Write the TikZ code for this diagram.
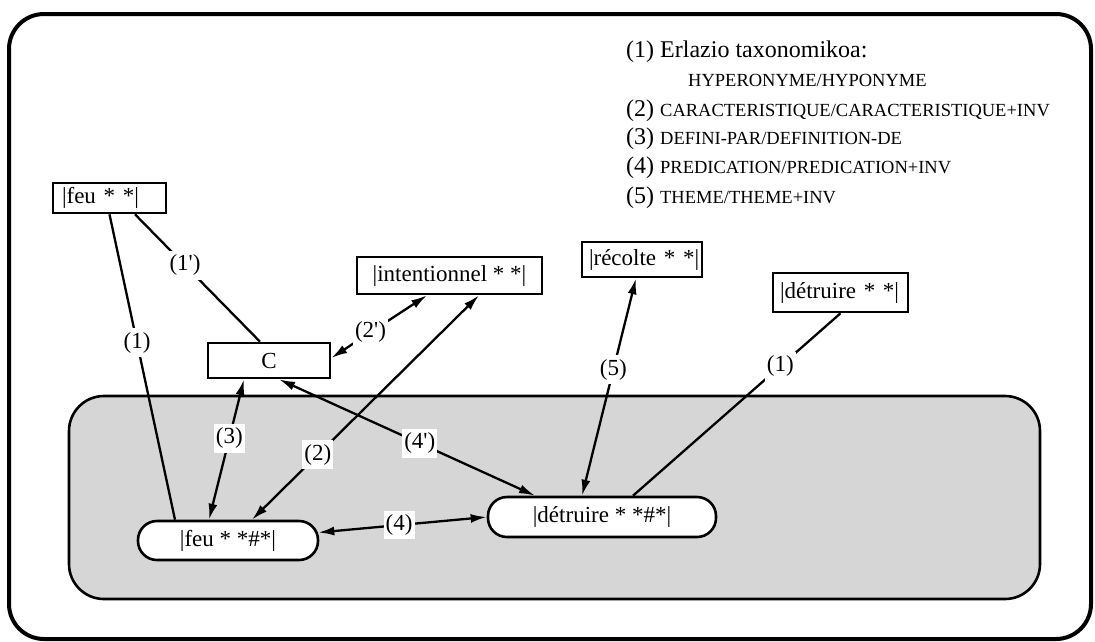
\documentclass[tikz,border=0pt]{standalone}
\usepackage{fontspec}
\setmainfont{Liberation Serif}
\usetikzlibrary{arrows.meta,calc}
\definecolor{zonegray}{RGB}{214,214,214}
\newcommand{\bigtxt}{\fontsize{23}{27}\selectfont}
\newcommand{\legtxt}{\fontsize{24}{28}\selectfont}
\newcommand{\captxt}{\fontsize{18.5}{22}\selectfont}
\begin{document}
\begin{tikzpicture}[x=1pt,y=-1pt,
  every node/.style={font=\bigtxt},
  wordbox/.style={draw,line width=2.6pt,inner ysep=0pt,align=left},
  cbox/.style={draw,line width=2.6pt,inner sep=0pt},
  oval/.style={draw,fill=white,line width=2.6pt,rounded corners=19pt,inner sep=0pt},
  conn/.style={line width=2.3pt},
  biarrow/.style={conn,{Latex[length=16pt,width=9pt]}-{Latex[length=16pt,width=9pt]}},
  lab/.style={fill=white,inner xsep=2pt,inner ysep=4pt},
  legend/.style={anchor=base west,inner sep=0pt,font=\legtxt}]
\useasboundingbox (0,0) rectangle (1095,641);

% outer frame and shaded zone
\draw[line width=4pt,rounded corners=35pt] (9,14) rectangle (1091,639);
\draw[line width=2.6pt,fill=zonegray,rounded corners=35pt] (69,396) rectangle (1040,599);

% legend
\node[legend] (leg1) at (626,57) {(1) Erlazio taxonomikoa:};
\node[legend,font=\captxt] (leg1b) at (688,86) {HYPERONYME/HYPONYME};
\node[legend] (leg2) at (626,116) {(2) {\captxt CARACTERISTIQUE/CARACTERISTIQUE+INV}};
\node[legend] (leg3) at (626,144) {(3) {\captxt DEFINI-PAR/DEFINITION-DE}};
\node[legend] (leg4) at (626,173) {(4) {\captxt PREDICATION/PREDICATION+INV}};
\node[legend] (leg5) at (626,203) {(5) {\captxt THEME/THEME+INV}};

% word boxes
\node[wordbox,inner xsep=9pt,text width=95pt,minimum height=30pt] (feu) at (109.5,198) {\mbox{|feu * *|}};
\node[cbox,minimum width=185pt,minimum height=37pt] (int) at (449.5,275.5) {|intentionnel * *|};
\node[cbox,minimum width=122pt,minimum height=35pt] (C) at (269,360.5) {C};
\node[wordbox,inner xsep=7pt,text width=106pt,minimum height=35pt] (rec) at (642,259.5) {\mbox{|récolte * *|}};
\node[wordbox,inner xsep=7pt,text width=121pt,minimum height=39pt] (det) at (840.5,292.5) {\mbox{|détruire * *|}};

% ovals in the shaded zone
\node[oval,minimum width=180pt,minimum height=39pt] (fe) at (228,540.5) {|feu * *\#*|};
\node[oval,minimum width=228pt,minimum height=40pt] (de) at (602,517) {|détruire * *\#*|};

% connectors
\draw[conn] (feu.south) -- node[lab,pos=0.42] (l1) {(1)} ([xshift=-53pt]fe.north);
\draw[conn] ([xshift=25.5pt]feu.south) -- node[lab,pos=0.40] (l1p) {(1\textquotesingle)} ([xshift=-9pt]C.north);
\draw[biarrow] ([yshift=2.5pt]C.east) -- node[lab,pos=0.41] (l2p) {(2\textquotesingle)} ([xshift=-22.5pt]int.south);
\draw[biarrow] ([xshift=24pt]fe.north) -- node[lab,pos=0.29] (l2) {(2)} ([xshift=29.5pt]int.south);
\draw[biarrow] ([xshift=-19pt]fe.north) -- node[lab,pos=0.58] (l3) {(3)} ([xshift=-25pt]C.south);
\draw[biarrow] ([xshift=-67pt]de.north) -- node[lab,pos=0.45] (l4p) {(4\textquotesingle)} ([xshift=10pt]C.south);
\draw[biarrow] ([xshift=-20pt]de.north) -- node[lab,pos=0.58] (l5) {(5)} ([xshift=-6pt]rec.south);
\draw[conn] ([xshift=31pt]de.north) -- node[lab,pos=0.71] (l1r) {(1)} (det.south);
\draw[biarrow] ([xshift=-1pt,yshift=8pt]fe.east) -- node[lab,pos=0.48] (l4) {(4)} (de.west);
\end{tikzpicture}
\end{document}
